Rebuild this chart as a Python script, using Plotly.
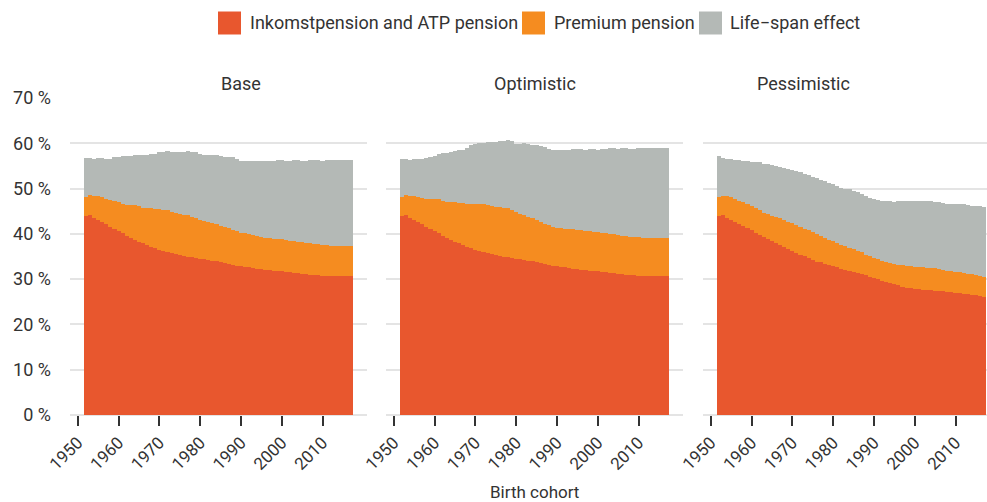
import plotly.graph_objects as go

# Birth cohorts shown as bars
years = list(range(1952, 2018))

# Levels (% of final wage), per scenario:
#   *_inkomst : top of Inkomstpension and ATP pension
#   *_premium : top of Premium pension (inkomst + premium)
#   *_total   : top of Life-span effect (total)
base_inkomst = [44.0, 44.2, 43.6, 43.1, 42.6, 42.1, 41.6, 41.1, 40.6, 40.1,
                39.6, 39.1, 38.7, 38.3, 37.9, 37.5, 37.1, 36.8, 36.5, 36.2,
                36.0, 35.8, 35.6, 35.3, 35.1, 34.9, 34.8, 34.6, 34.5, 34.4,
                34.2, 34.0, 33.9, 33.7, 33.5, 33.3, 33.1, 33.0, 32.9, 32.7,
                32.6, 32.4, 32.3, 32.2, 32.1, 32.0, 31.9, 31.8, 31.7, 31.6,
                31.5, 31.4, 31.3, 31.2, 31.1, 31.0, 31.0, 30.9, 30.8, 30.7,
                30.6, 30.6, 30.6, 30.6, 30.6, 30.6]
base_premium = [48.1, 48.6, 48.4, 48.4, 48.2, 47.7, 47.5, 47.2, 47.0, 46.7,
                46.4, 46.4, 46.4, 46.2, 45.8, 45.7, 45.7, 45.5, 45.5, 45.3,
                45.2, 44.9, 44.6, 44.4, 44.1, 44.1, 43.7, 43.5, 43.0, 42.8,
                42.6, 42.3, 42.1, 41.8, 41.6, 41.3, 40.9, 40.6, 40.3, 40.2,
                40.0, 39.7, 39.5, 39.3, 39.1, 39.1, 38.9, 38.9, 38.8, 38.7,
                38.5, 38.5, 38.3, 38.2, 38.0, 38.0, 37.8, 37.8, 37.5, 37.5,
                37.4, 37.4, 37.4, 37.4, 37.4, 37.4]
base_total = [56.7, 56.7, 56.6, 56.8, 56.8, 56.6, 56.6, 57.0, 56.9, 57.2,
              57.2, 57.2, 57.5, 57.5, 57.5, 57.5, 57.6, 57.6, 58.1, 58.1,
              58.3, 58.1, 58.1, 58.1, 58.1, 58.3, 58.0, 58.0, 57.7, 57.5,
              57.5, 57.4, 57.4, 57.2, 57.0, 57.0, 56.9, 56.6, 56.1, 56.1,
              56.1, 56.1, 56.1, 56.1, 56.1, 56.1, 56.1, 56.4, 56.4, 56.1,
              56.1, 56.3, 56.3, 56.1, 56.1, 56.3, 56.3, 56.3, 56.1, 56.3,
              56.3, 56.3, 56.3, 56.3, 56.3, 56.3]

opt_inkomst = [44.0, 44.2, 43.6, 43.1, 42.6, 42.1, 41.6, 41.1, 40.6, 40.1,
               39.6, 39.1, 38.7, 38.3, 37.9, 37.5, 37.1, 36.8, 36.5, 36.2,
               36.0, 35.8, 35.6, 35.3, 35.1, 34.9, 34.8, 34.6, 34.5, 34.4,
               34.2, 34.0, 33.9, 33.7, 33.5, 33.3, 33.1, 33.0, 32.9, 32.7,
               32.6, 32.4, 32.3, 32.2, 32.1, 32.0, 31.9, 31.8, 31.7, 31.6,
               31.5, 31.4, 31.3, 31.2, 31.1, 31.0, 31.0, 30.9, 30.8, 30.7,
               30.6, 30.6, 30.6, 30.6, 30.6, 30.6]
opt_premium = [48.2, 48.6, 48.4, 48.4, 48.2, 48.0, 47.8, 47.6, 47.6, 47.6,
               47.3, 47.1, 47.1, 47.1, 46.9, 46.9, 46.7, 46.7, 46.7, 46.7,
               46.7, 46.4, 46.2, 46.0, 46.0, 45.8, 45.8, 45.3, 44.9, 44.4,
               44.1, 43.8, 43.5, 43.1, 42.7, 42.2, 41.9, 41.6, 41.3, 41.3,
               41.1, 41.1, 41.0, 40.9, 40.9, 40.7, 40.7, 40.5, 40.5, 40.3,
               40.2, 40.0, 39.9, 39.8, 39.6, 39.5, 39.4, 39.3, 39.2, 39.1,
               39.1, 39.1, 39.1, 39.1, 39.1, 39.1]
opt_total = [56.6, 56.6, 56.4, 56.5, 56.5, 56.5, 56.7, 57.0, 57.3, 57.7,
             57.9, 57.9, 58.1, 58.3, 58.6, 58.6, 59.0, 59.7, 59.9, 60.1,
             60.1, 60.3, 60.3, 60.3, 60.5, 60.5, 60.7, 60.5, 59.9, 59.9,
             60.1, 59.8, 59.7, 59.7, 59.4, 59.2, 58.8, 58.6, 58.6, 58.6,
             58.6, 58.6, 58.7, 58.7, 58.7, 58.6, 58.7, 58.7, 58.6, 58.8,
             58.8, 58.9, 58.9, 58.8, 58.9, 58.9, 58.8, 58.8, 59.0, 59.0,
             59.0, 59.0, 59.0, 59.0, 59.0, 59.0]

pess_inkomst = [44.0, 44.2, 43.6, 43.1, 42.7, 42.2, 41.8, 41.3, 40.9, 40.2,
                39.8, 39.3, 38.9, 38.5, 38.0, 37.6, 37.2, 36.7, 36.3, 35.8,
                35.4, 35.2, 34.7, 34.3, 33.8, 33.8, 33.4, 33.2, 32.9, 32.7,
                32.3, 32.1, 31.9, 31.6, 31.4, 31.2, 31.0, 30.5, 30.3, 30.1,
                29.7, 29.4, 29.2, 28.9, 28.6, 28.3, 28.1, 28.1, 27.9, 27.9,
                27.7, 27.7, 27.6, 27.4, 27.4, 27.4, 27.2, 27.2, 27.0, 27.0,
                26.8, 26.8, 26.6, 26.5, 26.3, 26.1]
pess_premium = [48.2, 48.4, 48.4, 48.2, 47.7, 47.3, 47.1, 46.6, 46.2, 45.8,
                45.3, 44.7, 44.4, 44.0, 43.8, 43.6, 43.1, 42.7, 42.5, 42.0,
                41.6, 41.1, 40.9, 40.5, 40.0, 39.6, 39.1, 38.7, 38.5, 38.0,
                37.6, 37.4, 36.9, 36.7, 36.3, 36.1, 35.4, 35.2, 34.7, 34.5,
                34.1, 33.8, 33.6, 33.4, 33.2, 33.2, 32.9, 32.9, 32.7, 32.7,
                32.6, 32.5, 32.5, 32.4, 32.3, 32.1, 31.9, 31.8, 31.6, 31.5,
                31.3, 31.2, 31.1, 31.0, 30.8, 30.5]
pess_total = [57.2, 56.8, 56.6, 56.6, 56.4, 56.2, 56.1, 56.1, 55.8, 55.9,
              55.8, 55.5, 55.4, 55.2, 55.0, 54.8, 54.5, 54.3, 54.1, 53.9,
              53.6, 53.3, 52.9, 52.6, 52.3, 51.9, 51.6, 51.2, 51.0, 50.6,
              50.2, 50.0, 49.8, 49.5, 49.2, 48.9, 48.4, 48.0, 47.7, 47.5,
              47.3, 47.2, 47.2, 47.1, 47.2, 47.2, 47.2, 47.2, 47.3, 47.2,
              47.2, 47.2, 47.2, 47.0, 47.0, 46.9, 46.7, 46.6, 46.6, 46.5,
              46.6, 46.4, 46.2, 46.2, 46.1, 45.9]

scenarios = ['Base', 'Optimistic', 'Pessimistic']
series_names = ['Inkomstpension and ATP pension', 'Premium pension', 'Life\u2212span effect']
colors = ['#E8572E', '#F58C20', '#B4B9B6']

x_ticks = [1950, 1960, 1970, 1980, 1990, 2000, 2010]
y_ticks = [0, 10, 20, 30, 40, 50, 60, 70]
y_ticktext = ['%d %%' % v for v in y_ticks]

panels = [
    (base_inkomst, base_premium, base_total),
    (opt_inkomst, opt_premium, opt_total),
    (pess_inkomst, pess_premium, pess_total),
]

font = 'Roboto, Arial, sans-serif'
txt = '#333333'
grid = '#E4E4E4'

# figure geometry in pixels
FW, FH = 987, 502
L, T, H = 70, 98, 317
R = 0
W = FW - L - R
def px(x):
    return (x - L) / W
def py(y):
    return (T + H - y) / H

PXYR = 297 / 72.8  # pixels per year, same in every panel
domains = [[px(70), px(367)], [px(386), px(683)], [px(703), 1.0]]
xranges = [[1948.1, 2020.9], [1948.1, 2020.9],
           [1948.1, 1948.1 + (FW - R - 703) / PXYR]]

fig = go.Figure()

for i, (ink, prem, tot) in enumerate(panels):
    xa = 'x' if i == 0 else 'x%d' % (i + 1)
    ya = 'y' if i == 0 else 'y%d' % (i + 1)
    # overlay from the tallest level down
    for vals, col in [(tot, colors[2]), (prem, colors[1]), (ink, colors[0])]:
        fig.add_trace(go.Bar(x=years, y=vals, width=1, xaxis=xa, yaxis=ya,
                             marker=dict(color=col, line=dict(width=0)),
                             showlegend=False))

layout = dict(
    width=FW, height=FH,
    margin=dict(l=L, r=R, t=T, b=FH - T - H, autoexpand=False),
    plot_bgcolor='white', paper_bgcolor='white',
    barmode='overlay', bargap=0,
    font=dict(family=font, size=16, color=txt),
    showlegend=False,
)

for i in range(3):
    sx = '' if i == 0 else str(i + 1)
    layout['xaxis' + sx] = dict(
        domain=domains[i], range=xranges[i], anchor='y' + sx, automargin=False,
        tickvals=x_ticks,
        ticks='outside', ticklen=10, tickwidth=1.5, tickcolor=txt,
        tickangle=-45, tickfont=dict(size=17, color=txt),
        showgrid=False, zeroline=False, showline=False,
    )
    layout['yaxis' + sx] = dict(
        domain=[0, 1], range=[0, 70], anchor='x' + sx, automargin=False,
        tickmode='array', tickvals=y_ticks, ticktext=y_ticktext,
        showticklabels=(i == 0), tickfont=dict(size=18, color=txt),
        showgrid=True, gridcolor=grid, gridwidth=1.5,
        zeroline=True, zerolinecolor=grid, zerolinewidth=1.5,
        showline=False, ticks='', ticklabelstandoff=18,
    )

fig.update_layout(**layout)

# legend drawn as swatches + labels at the top
legend_items = [(218, 248), (522, 552), (699, 728)]
for (sx0, tx0), name, col in zip(legend_items, series_names, colors):
    fig.add_shape(type='rect', xref='paper', yref='paper',
                  x0=px(sx0), x1=px(sx0 + 23), y0=py(34.5), y1=py(11.5),
                  fillcolor=col, line=dict(width=0))
    fig.add_annotation(x=px(tx0), y=py(23), xref='paper', yref='paper',
                       text=name, showarrow=False, xanchor='left', yanchor='middle',
                       font=dict(size=18, color=txt))

# panel titles (centred on the full panel width, also for the clipped one)
centres = [218.5, 534.5, 851.5]
for c, name in zip(centres, scenarios):
    fig.add_annotation(x=px(c), y=py(83), xref='paper', yref='paper',
                       text=name, showarrow=False, font=dict(size=18, color=txt),
                       yanchor='middle')

# x-axis title under the middle panel
fig.add_annotation(x=px(534.5), y=py(492), xref='paper', yref='paper',
                   text='Birth cohort', showarrow=False, font=dict(size=17, color=txt),
                   yanchor='middle')

fig.write_html('out.html', config={'displayModeBar': False},
               post_script="document.body.style.margin='0';")
